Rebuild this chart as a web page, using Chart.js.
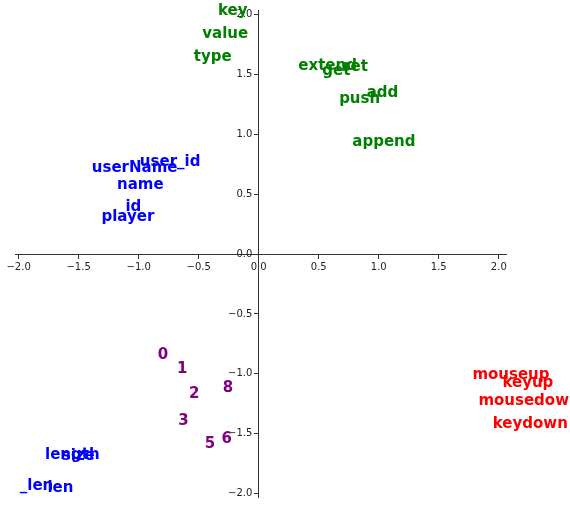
<!DOCTYPE html>
<html>
<head>
<meta charset="utf-8">
<script src="https://cdn.jsdelivr.net/npm/chart.js@4"></script>
<style>
  html, body { margin: 0; padding: 0; background: #fff; }
  #wrap { width: 570px; height: 505px; }
</style>
</head>
<body>
<div id="wrap"><canvas id="wordChart"></canvas></div>
<script>
// words and their 2d positions, one group per colour
const greenWords = ["key", "value", "type", "extend", "get", "set", "add", "push", "append"];
const greenX = [-0.34, -0.47, -0.54, 0.33, 0.53, 0.69, 0.90, 0.67, 0.78];
const greenY = [2.00, 1.81, 1.61, 1.54, 1.50, 1.53, 1.31, 1.26, 0.90];

const blueWords = ["userName", "user_id", "name", "id", "player", "length", "size", "_len", "len"];
const blueX = [-1.39, -0.99, -1.18, -1.11, -1.31, -1.78, -1.64, -1.99, -1.76];
const blueY = [0.69, 0.74, 0.54, 0.36, 0.28, -1.71, -1.72, -1.97, -1.99];

const purpleWords = ["0", "1", "2", "8", "3", "5", "6"];
const purpleX = [-0.84, -0.68, -0.58, -0.30, -0.67, -0.45, -0.31];
const purpleY = [-0.88, -0.99, -1.20, -1.15, -1.43, -1.62, -1.58];

const redWords = ["mouseup", "keyup", "mousedown", "keydown"];
const redX = [1.78, 2.03, 1.83, 1.95];
const redY = [-1.04, -1.11, -1.26, -1.45];

const tickValues = [-2.0, -1.5, -1.0, -0.5, 0.0, 0.5, 1.0, 1.5, 2.0];

const X_MIN = -2.03, X_MAX = 2.06;
const Y_MIN = -2.03, Y_MAX = 2.04;

function toPoints(words, xs, ys) {
    let points = [];
    for (let i = 0; i < words.length; i++) {
        points.push({x: xs[i], y: ys[i], word: words[i]});
    }
    return points;
}

function formatTick(value) {
    return Number(value).toFixed(1).replace('-', '\u2212');
}

// draws every word at its point, left aligned on the baseline
const wordLabels = {
    id: 'wordLabels',
    afterDatasetsDraw(chart) {
        const ctx = chart.ctx;
        ctx.save();
        ctx.font = 'bold 15px "DejaVu Sans"';
        ctx.textAlign = 'left';
        ctx.textBaseline = 'alphabetic';
        chart.data.datasets.forEach((dataset, i) => {
            const meta = chart.getDatasetMeta(i);
            ctx.fillStyle = dataset.textColor;
            meta.data.forEach((point, j) => {
                ctx.fillText(dataset.data[j].word, point.x, point.y);
            });
        });
        ctx.restore();
    }
};

function axisOptions(tickCallback, padding) {
    return {
        type: 'linear',
        grid: {
            drawOnChartArea: false,
            drawTicks: true,
            tickLength: 4,
            color: '#333',
            lineWidth: 1
        },
        border: { display: true, color: '#333', width: 1 },
        ticks: {
            color: '#222',
            font: { family: '"DejaVu Sans"', size: 10 },
            padding: padding,
            callback: tickCallback
        },
        afterBuildTicks: (scale) => {
            scale.ticks = tickValues.map(v => ({value: v}));
        }
    };
}

let graph = new Chart(document.querySelector('#wordChart'), {
    type: 'scatter',
    data: {
        datasets: [
            { label: 'green', data: toPoints(greenWords, greenX, greenY), textColor: '#008000' },
            { label: 'blue', data: toPoints(blueWords, blueX, blueY), textColor: '#0000ff' },
            { label: 'purple', data: toPoints(purpleWords, purpleX, purpleY), textColor: '#800080' },
            { label: 'red', data: toPoints(redWords, redX, redY), textColor: '#ff0000' }
        ]
    },
    options: {
        responsive: true,
        maintainAspectRatio: false,
        animation: false,
        layout: { padding: { left: 15, right: 64, top: 10, bottom: 8 } },
        elements: { point: { radius: 0, hoverRadius: 0 } },
        plugins: {
            legend: { display: false },
            tooltip: { enabled: false }
        },
        scales: {
            x: Object.assign(axisOptions(formatTick, 3), {
                min: X_MIN,
                max: X_MAX,
                position: { y: 0 },
                afterFit: (scale) => { scale.height = 0; }
            }),
            // centred y axis puts labels right on the spine, trailing spaces push them off it
            y: Object.assign(axisOptions(v => formatTick(v) + '  ', 0), {
                min: Y_MIN,
                max: Y_MAX,
                position: { x: 0 },
                afterFit: (scale) => { scale.width = 0; }
            })
        }
    },
    plugins: [wordLabels]
});
</script>
</body>
</html>
